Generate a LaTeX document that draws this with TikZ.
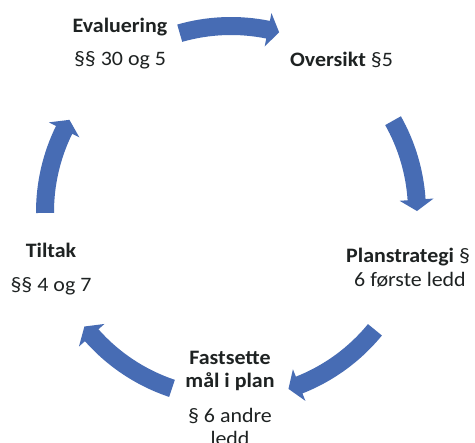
\documentclass[tikz,border=0pt]{standalone}
\usepackage{fontspec}
\setmainfont{Carlito}[FakeStretch=1.07]
\definecolor{arcblue}{RGB}{71,108,180}
\definecolor{txtcol}{RGB}{30,34,34}
\tikzset{
  lbl/.style={anchor=base, inner sep=0pt, text=txtcol, font=\fontsize{20.5}{24}\selectfont},
  blk/.style={lbl, font=\fontsize{20.5}{24}\selectfont\bfseries},
  cyclearrow/.style={fill=arcblue, draw=none},
}
% #1 start angle (tail), #2 end angle (tip); clockwise block arc arrow around (C)
\newcommand\cyclearc[2]{%
  \path[cyclearrow]
    ([shift={(#1:195pt)}]C) arc[start angle=#1, end angle=#2+3.5, radius=195pt]
    -- ([shift={(#2+3.5:203pt)}]C)
    -- ([shift={(#2:186pt)}]C)
    -- ([shift={(#2+3.5:169pt)}]C)
    -- ([shift={(#2+3.5:177pt)}]C)
    arc[start angle=#2+3.5, end angle=#1, radius=177pt] -- cycle;
}
\begin{document}
\begin{tikzpicture}[x=1pt,y=1pt]
\useasboundingbox[fill=white] (0,0) rectangle (475,443);
\coordinate (C) at (231,231);
\cyclearc{106}{75}
\cyclearc{29.4}{0.3}
\cyclearc{-39.3}{-72}
\cyclearc{-108.5}{-142}
\cyclearc{180.3}{150.3}

\node[blk] (ev1) at (120,410) {Evaluering};
\node[lbl] (ev2) at (120,377) {§§ 30 og 5};
\node[lbl] (ov) at (341.5,376) {\textbf{Oversikt} §5};
\node[lbl, anchor=base west] (pl1) at (346,180) {\textbf{Planstrategi} §};
\node[lbl] (pl2) at (410,156) {6 første ledd};
\node[blk] (fa1) at (230,78) {Fastsette};
\node[blk] (fa2) at (230,55) {mål i plan};
\node[lbl] (fa3) at (230,20) {§ 6 andre};
\node[lbl] (fa4) at (230,-3) {ledd};
\node[blk] (ti1) at (51,185) {Tiltak};
\node[lbl] (ti2) at (51,151) {§§ 4 og 7};
\end{tikzpicture}
\end{document}
